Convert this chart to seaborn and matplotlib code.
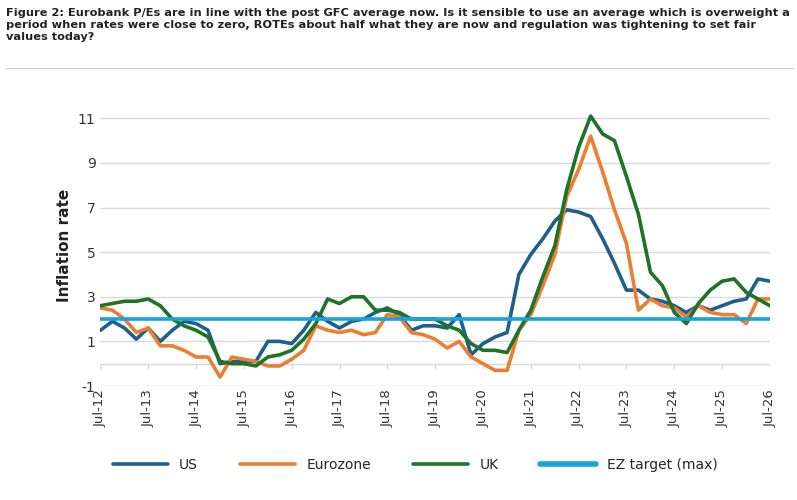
import matplotlib
matplotlib.use("Agg")
import matplotlib.pyplot as plt
import matplotlib.dates as mdates
import seaborn as sns
import pandas as pd

dates = pd.date_range("2012-07-01", "2026-07-01", freq="3MS")
us = [1.5,1.9,1.6,1.1,1.6,1.0,1.5,1.9,1.8,1.5,0.0,0.1,0.1,0.1,1.0,1.0,0.9,1.5,2.3,1.9,
      1.6,1.9,2.0,2.3,2.5,2.2,1.5,1.7,1.7,1.6,2.2,0.4,0.9,1.2,1.4,4.0,4.9,5.6,6.4,6.9,
      6.8,6.6,5.6,4.5,3.3,3.3,2.9,2.8,2.6,2.3,2.6,2.4,2.6,2.8,2.9,3.8,3.7]
ez = [2.5,2.4,2.0,1.4,1.6,0.8,0.8,0.6,0.3,0.3,-0.6,0.3,0.2,0.1,-0.1,-0.1,0.2,0.6,1.7,1.5,
      1.4,1.5,1.3,1.4,2.2,2.1,1.4,1.3,1.1,0.7,1.0,0.3,0.0,-0.3,-0.3,1.5,2.2,3.5,4.9,7.5,
      8.7,10.2,8.6,6.9,5.4,2.4,2.9,2.6,2.5,2.1,2.6,2.3,2.2,2.2,1.8,2.9,2.9]
uk = [2.6,2.7,2.8,2.8,2.9,2.6,2.0,1.7,1.5,1.2,0.1,0.0,0.0,-0.1,0.3,0.4,0.6,1.1,1.8,2.9,
      2.7,3.0,3.0,2.4,2.4,2.3,2.0,2.0,2.0,1.7,1.5,0.9,0.6,0.6,0.5,1.5,2.4,3.9,5.3,7.8,
      9.7,11.1,10.3,10.0,8.4,6.7,4.1,3.5,2.3,1.8,2.7,3.3,3.7,3.8,3.2,2.9,2.6]
target = [2.0] * len(dates)

series = {"US": us, "Eurozone": ez, "UK": uk, "EZ target (max)": target}
colors = {"US": "#1f5f8b", "Eurozone": "#ed7d31", "UK": "#1e7327", "EZ target (max)": "#17a3dc"}
df = pd.concat([pd.DataFrame({"date": dates, "value": v, "series": k}) for k, v in series.items()])

sns.set_style("white")
plt.rcParams["axes.unicode_minus"] = False
fig = plt.figure(figsize=(7.97, 5.0), dpi=100)
ax = fig.add_axes([0.126, 0.228, 0.84, 0.562])
sns.lineplot(data=df, x="date", y="value", hue="series", palette=colors, ax=ax, linewidth=2.6)
for l in ax.get_lines():
    if l.get_label() == "EZ target (max)":
        l.set_linewidth(4)

ax.set_ylim(-1, 11.6)
ax.set_yticks(range(-1, 12, 2))
ax.set_xlim(dates[0], dates[-1])
xt = pd.date_range("2012-07-01", "2026-07-01", freq="12MS")
ax.set_xticks(xt)
ax.xaxis.set_major_formatter(mdates.DateFormatter("%b-%y"))
ax.tick_params(axis="x", rotation=90, length=0, labelsize=9.5, colors="#333333", pad=2)
ax.tick_params(axis="y", length=0, labelsize=10, colors="#333333")
ax.grid(axis="y", color="#d9d9d9", linewidth=1)
ax.axhline(0, color="#d9d9d9", linewidth=1, zorder=0)
ax.vlines(xt, -0.25, 0, color="#d9d9d9", linewidth=1, zorder=0)
for s in ax.spines.values():
    s.set_visible(False)
ax.set_xlabel("")
ax.set_ylabel("Inflation rate", fontsize=11, fontweight="bold", color="#222222")
ax.legend(loc="upper center", bbox_to_anchor=(0.47, -0.21), ncol=4, frameon=False,
          fontsize=10, handlelength=4, columnspacing=3)

fig.text(0.008, 0.985, "Figure 2: Eurobank P/Es are in line with the post GFC average now. Is it sensible to use an average which is overweight a\n"
         "period when rates were close to zero, ROTEs about half what they are now and regulation was tightening to set fair\n"
         "values today?", fontsize=8.2, fontweight="bold", va="top", ha="left", color="#222222", linespacing=1.3)
fig.add_artist(plt.Line2D([0.008, 0.995], [0.865, 0.865], color="#cccccc", linewidth=0.8))
fig.savefig("out.png", dpi=100)
